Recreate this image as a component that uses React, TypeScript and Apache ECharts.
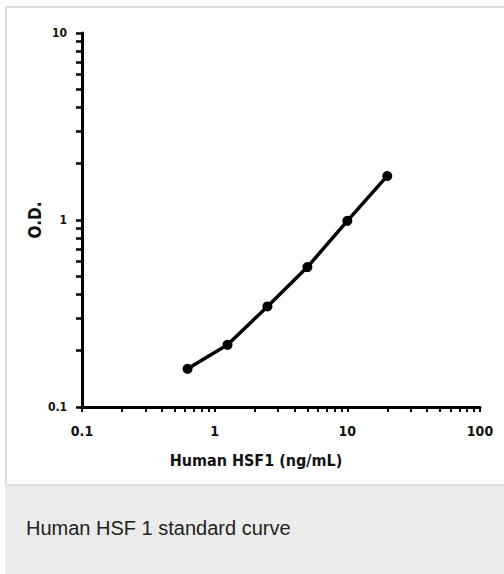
import React, { useEffect, useRef } from "react";
import * as echarts from "echarts";

const concentrations = [0.625, 1.25, 2.5, 5, 10, 20];
const odValues = [0.16, 0.215, 0.345, 0.56, 0.99, 1.72];
const xMajorTicks = [0.1, 1, 10, 100];
const yMajorTicks = [0.1, 1, 10];
const xAxisTitle = "Human HSF1 (ng/mL)";
const yAxisTitle = "O.D.";
const caption = "Human HSF 1 standard curve";

const decadeTicks = (from: number, to: number) => {
  const out: number[] = [];
  for (let d = from; d < to * 0.999; d *= 10) {
    for (let m = 1; m < 10; m++) out.push(parseFloat((m * d).toPrecision(3)));
  }
  out.push(to);
  return out;
};

const FONT = "'DejaVu Sans Condensed', 'DejaVu Sans', sans-serif";

export default function App() {
  const ref = useRef<HTMLDivElement>(null);
  useEffect(() => {
    document.body.style.margin = "0";
    const chart = echarts.init(ref.current!, null, { renderer: "svg" });
    chart.setOption({
      animation: false,
      grid: { left: 82, right: 24, top: 33, bottom: 167, containLabel: false },
      xAxis: {
        type: "log",
        logBase: 10,
        min: 0.1,
        max: 100,
        name: xAxisTitle,
        nameLocation: "middle",
        nameGap: 45,
        nameMoveOverlap: false,
        nameTextStyle: { fontFamily: FONT, fontSize: 16, fontWeight: "bold", color: "#111", padding: [0, 50, 0, 0] },
        axisLine: { show: true, lineStyle: { color: "#000", width: 3 } },
        axisTick: { show: true, length: 5, lineStyle: { color: "#000", width: 2 }, customValues: decadeTicks(0.1, 100) },
        axisLabel: { customValues: xMajorTicks, margin: 17, fontFamily: FONT, fontSize: 14, fontWeight: "bold", color: "#111", formatter: (v: number) => String(v) },
        splitLine: { show: false },
      },
      yAxis: {
        type: "log",
        logBase: 10,
        min: 0.1,
        max: 10,
        name: yAxisTitle,
        nameLocation: "middle",
        nameGap: 39,
        nameMoveOverlap: false,
        nameRotate: 90,
        nameTextStyle: { fontFamily: FONT, fontSize: 17, fontWeight: "bold", color: "#111" },
        axisLine: { show: true, lineStyle: { color: "#000", width: 3 } },
        axisTick: { show: true, length: 6, lineStyle: { color: "#000", width: 2.5 }, customValues: decadeTicks(0.1, 10) },
        axisLabel: { customValues: yMajorTicks, margin: 15, fontFamily: FONT, fontSize: 12, fontWeight: "bold", color: "#111", formatter: (v: number) => String(v) },
        splitLine: { show: false },
      },
      series: [
        {
          type: "line",
          data: concentrations.map((c, i) => [c, odValues[i]]),
          symbol: "circle",
          symbolSize: 10,
          lineStyle: { color: "#000", width: 3.5 },
          itemStyle: { color: "#000" },
        },
      ],
    });
    return () => chart.dispose();
  }, []);

  return (
    <div style={{ position: "fixed", left: 0, top: 0, width: 504, height: 574, background: "#fff", overflow: "hidden" }}>
      <div style={{ position: "absolute", left: 5, top: 6, width: 540, height: 480, border: "2px solid #dedede", boxSizing: "border-box" }} />
      <div style={{ position: "absolute", left: 5, top: 486, width: 540, height: 100, background: "#ebecea" }}>
        <div style={{ position: "absolute", left: 21, top: 31, fontFamily: "'Liberation Sans', Arial, sans-serif", fontSize: 20, color: "#222", whiteSpace: "nowrap" }}>
          {caption}
        </div>
      </div>
      <div ref={ref} style={{ position: "absolute", left: 0, top: 0, width: 504, height: 574 }} />
    </div>
  );
}
